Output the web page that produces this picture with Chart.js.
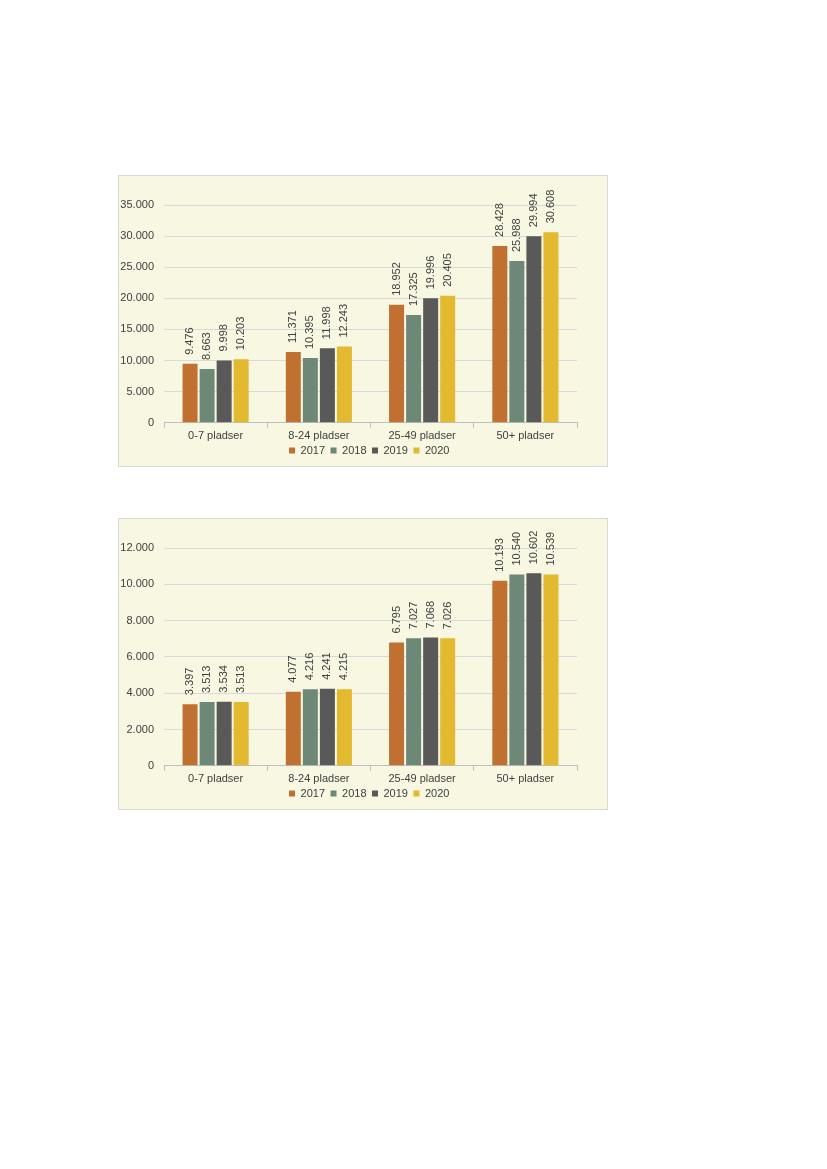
<!DOCTYPE html>
<html>
<head>
<meta charset="utf-8">
<script src="https://cdn.jsdelivr.net/npm/chart.js@4/dist/chart.umd.min.js"></script>
<style>
  body { margin: 0; background: #fff; width: 827px; height: 1169px; position: relative; }
  .box { position: absolute; left: 118px; width: 490px; height: 292px; background: #F8F7E1; border: 1px solid #D9D9D9; box-sizing: border-box; }
  #box1 { top: 175px; }
  #box2 { top: 518px; }
</style>
</head>
<body>
<div class="box" id="box1"><canvas id="chart1"></canvas></div>
<div class="box" id="box2"><canvas id="chart2"></canvas></div>
<script>
const categories = ['0-7 pladser', '8-24 pladser', '25-49 pladser', '50+ pladser']
const years = ['2017', '2018', '2019', '2020']
const colors = ['#C07030', '#6E8878', '#595959', '#E3B930']

// chart 1
const top2017 = [9476, 11371, 18952, 28428]
const top2018 = [8663, 10395, 17325, 25988]
const top2019 = [9998, 11998, 19996, 29994]
const top2020 = [10203, 12243, 20405, 30608]

// chart 2
const bottom2017 = [3397, 4077, 6795, 10193]
const bottom2018 = [3513, 4216, 7027, 10540]
const bottom2019 = [3534, 4241, 7068, 10602]
const bottom2020 = [3513, 4215, 7026, 10539]

const font = '"Liberation Sans", Arial, sans-serif'

function fmt(v) {
  return String(v).replace(/\B(?=(\d{3})+(?!\d))/g, '.')
}

const barLabels = {
  id: 'barLabels',
  afterDatasetsDraw(chart) {
    const ctx = chart.ctx
    ctx.save()
    ctx.font = '11px ' + font
    ctx.fillStyle = '#404040'
    ctx.textAlign = 'left'
    ctx.textBaseline = 'middle'
    chart.data.datasets.forEach(function(ds, i) {
      chart.getDatasetMeta(i).data.forEach(function(bar, j) {
        ctx.save()
        ctx.translate(bar.x, bar.y - 9)
        ctx.rotate(-Math.PI / 2)
        ctx.fillText(fmt(ds.data[j]), 0, 0)
        ctx.restore()
      })
    })
    ctx.restore()
  }
}

// legend sits under the plot area, not the whole canvas
const legendShift = {
  id: 'legendShift',
  afterLayout(chart) {
    chart.legend.left += 24
    chart.legend.right += 24
  }
}

function makeChart(id, series, max, step) {
  const canvas = document.getElementById(id)
  canvas.width = 488
  canvas.height = 290
  canvas.style.width = '488px'
  canvas.style.height = '290px'
  return new Chart(canvas.getContext('2d'), {
    type: 'bar',
    data: {
      labels: categories,
      datasets: series.map(function(s, i) {
        return {
          label: years[i],
          data: s,
          backgroundColor: colors[i],
          barPercentage: 0.88,
          categoryPercentage: 0.66
        }
      })
    },
    options: {
      responsive: false,
      animation: false,
      layout: { padding: { top: 29, right: 30, left: 0, bottom: 0 } },
      plugins: {
        legend: {
          position: 'bottom',
          labels: {
            boxWidth: 6, boxHeight: 6, padding: 0,
            color: '#404040',
            font: { size: 11, family: font },
            generateLabels: function(chart) {
              return chart.data.datasets.map(function(ds, i) {
                return {
                  text: ds.label + '\u2002',
                  fillStyle: ds.backgroundColor,
                  strokeStyle: ds.backgroundColor,
                  lineWidth: 0,
                  fontColor: '#404040',
                  datasetIndex: i
                }
              })
            }
          }
        },
        tooltip: { enabled: false }
      },
      scales: {
        x: {
          grid: { drawOnChartArea: false, tickLength: 5, color: '#BFBFBF' },
          border: { color: '#BFBFBF' },
          ticks: { color: '#404040', padding: 2, font: { size: 11, family: font } }
        },
        y: {
          min: 0, max: max,
          afterFit: function(scale) { scale.width = 45 },
          grid: { color: '#D9D9D9', drawTicks: false },
          border: { display: false },
          ticks: {
            stepSize: step, padding: 10,
            color: '#404040',
            font: { size: 11, family: font },
            callback: function(v) { return fmt(v) }
          }
        }
      }
    },
    plugins: [barLabels, legendShift]
  })
}

makeChart('chart1', [top2017, top2018, top2019, top2020], 35000, 5000)
makeChart('chart2', [bottom2017, bottom2018, bottom2019, bottom2020], 12000, 2000)
</script>
</body>
</html>
